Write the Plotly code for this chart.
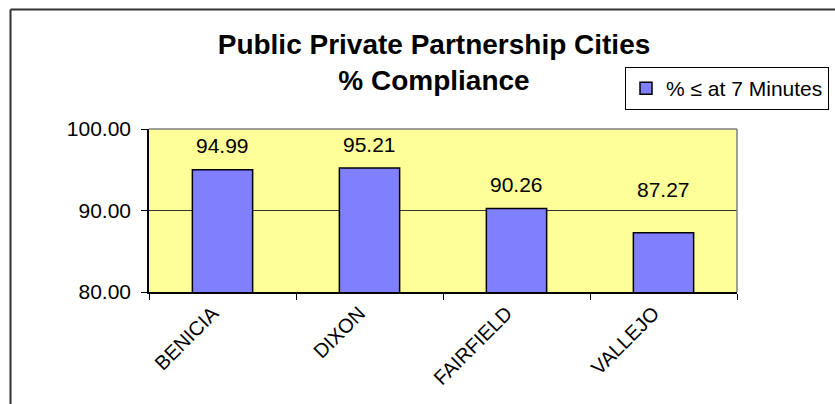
import plotly.graph_objects as go

cities = ["BENICIA", "DIXON", "FAIRFIELD", "VALLEJO"]
compliance = [94.99, 95.21, 90.26, 87.27]
label_text = ["94.99", "95.21", "90.26", "87.27"]
label_shift = [24, 24, 24, 43]
y_ticks = [80, 90, 100]
series_name = "% \u2264 at 7 Minutes"
title_text = "<b>Public Private Partnership Cities<br>% Compliance</b>"

FONT = "Liberation Sans, Arial, sans-serif"
W, H = 835, 404
L, R, T, B = 149, 98, 129, 112
pw, ph = W - L - R, H - T - B

def px_to_paper_x(px):
    return (px - L) / pw

def px_to_paper_y(py):
    return (H - B - py) / ph

fig = go.Figure()
fig.add_trace(go.Bar(
    x=cities, y=compliance, name=series_name,
    marker=dict(color="#8080FF", line=dict(color="black", width=1.5)),
    width=0.41, showlegend=True,
))

for c, v, t, s in zip(cities, compliance, label_text, label_shift):
    fig.add_annotation(x=c, y=v, text=t, showarrow=False, yanchor="middle",
                       yshift=s, font=dict(family=FONT, size=21, color="black"))

shapes = [
    dict(type="line", xref="paper", yref="paper",
         x0=px_to_paper_x(10.5), x1=px_to_paper_x(10.5),
         y0=px_to_paper_y(410), y1=px_to_paper_y(9.5),
         line=dict(color="#333333", width=2)),
    dict(type="line", xref="paper", yref="paper",
         x0=px_to_paper_x(10.5), x1=px_to_paper_x(840),
         y0=px_to_paper_y(9.5), y1=px_to_paper_y(9.5),
         line=dict(color="#333333", width=2)),
    dict(type="line", xref="paper", yref="paper", x0=0, x1=1, y0=1, y1=1,
         line=dict(color="#808080", width=1.5)),
    dict(type="line", xref="paper", yref="paper", x0=1, x1=1, y0=0, y1=1,
         line=dict(color="#808080", width=1.5)),
]

fig.update_layout(
    width=W, height=H,
    margin=dict(l=L, r=R, t=T, b=B, autoexpand=False),
    paper_bgcolor="white",
    plot_bgcolor="#FFFF99",
    font=dict(family=FONT, color="black"),
    title=dict(text=title_text, x=434 / W, xanchor="center", xref="container",
               y=1 - 54 / H, yanchor="middle", yref="container",
               font=dict(family=FONT, size=28, color="black")),
    legend=dict(x=px_to_paper_x(625), y=px_to_paper_y(67), xanchor="left", yanchor="top",
                bordercolor="black", borderwidth=1, bgcolor="white",
                font=dict(family=FONT, size=21, color="black"),
                itemclick=False),
    bargap=0.59,
    shapes=shapes,
    xaxis=dict(
        type="category", showline=True, linecolor="black", linewidth=1.5,
        ticks="outside", tickson="boundaries", ticklen=6, tickcolor="black",
        tickangle=-45, tickfont=dict(family=FONT, size=20, color="black"),
        showgrid=False, zeroline=False, ticklabelshift=-10,
    ),
    yaxis=dict(
        range=[80, 100], tickvals=y_ticks, tickformat=".2f",
        showline=True, linecolor="black", linewidth=1.5,
        ticks="outside", ticklen=6, tickcolor="black",
        tickfont=dict(family=FONT, size=21, color="black"),
        showgrid=True, gridcolor="#333333", gridwidth=1,
        zeroline=False, ticklabelstandoff=6,
    ),
)

fig.write_html("out.html", config={"displayModeBar": False},
               post_script="document.body.style.margin='0';")
